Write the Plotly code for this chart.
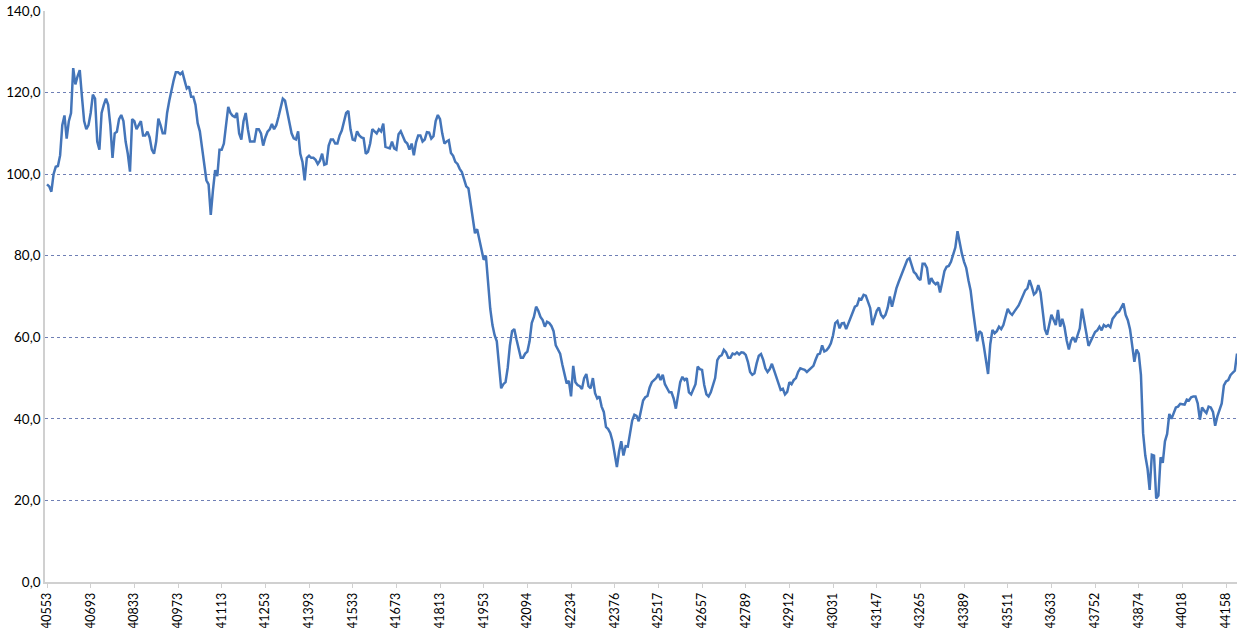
import plotly.graph_objects as go

# Tick labels on the category axis (one label every 20 points below)
tick_labels = ["40553", "40693", "40833", "40973", "41113", "41253", "41393",
               "41533", "41673", "41813", "41953", "42094", "42234", "42376",
               "42517", "42657", "42789", "42912", "43031", "43147", "43265",
               "43389", "43511", "43633", "43752", "43874", "44018", "44158"]
label_step = 20

# Series values, one row per labelled interval
values = [
    97.5, 97, 95.7, 100, 101.8, 102, 104.6, 112, 114.4, 108.7, 113, 115, 126, 122, 124, 125.5, 119, 113, 111, 112,
    115, 119.5, 118.5, 108, 106, 115, 117, 118.5, 117, 112, 104, 110, 110.4, 113.5, 114.5, 113, 108, 105, 100.6, 113.5,
    113, 111, 112, 113, 109.5, 109.5, 110.4, 109, 106, 105, 108, 113.6, 112, 110, 110, 115, 118, 121, 123, 125,
    125, 124.5, 125, 123, 121, 121.5, 119, 119, 117, 112.5, 110.5, 106.5, 102, 98.5, 97.5, 90, 96, 101, 99.5, 106,
    106, 107.5, 112, 116.5, 115, 114.3, 114, 115, 110, 108.5, 113, 115, 111, 108, 108, 108, 111, 111, 110, 107,
    109, 110.4, 111, 112.3, 111, 112, 114, 116.3, 118.5, 118, 115, 112, 110, 108.8, 108.5, 110.5, 105, 103, 98.5, 104,
    104.5, 104, 104, 103.5, 102.5, 103.3, 105, 102.3, 102.5, 107, 108.5, 108.5, 107.5, 107.5, 109.5, 110.7, 113, 115, 115.5, 111,
    108.5, 108.3, 110.5, 109.5, 109, 108.8, 105, 105.5, 107.5, 111, 110.5, 110, 111, 110.5, 112.4, 106.7, 106.5, 106.3, 108, 106.3,
    106, 109.8, 110.5, 109, 108, 107.5, 106, 107.5, 104.6, 107.8, 109.5, 109.5, 108, 108.5, 110.3, 110.2, 108.7, 109.3, 113, 114.5,
    113.5, 110, 107.5, 108, 108.3, 105.2, 104.5, 103, 102.5, 101.3, 100.5, 98.8, 97, 96.5, 92.5, 89, 85.5, 86.5, 84, 81.7,
    79, 80, 73.5, 67, 63, 60.5, 59, 53, 47.5, 48.5, 49, 52.5, 58, 61.5, 62, 59.5, 57.5, 55, 55, 56,
    56.5, 59, 63.5, 65, 67.5, 66.5, 65, 64.2, 62.6, 63.8, 63.5, 62.8, 61.5, 58, 57, 56, 53.3, 51, 48.7, 49.3,
    45.5, 53, 49, 48.3, 48, 47.3, 50, 51, 48, 47.5, 50, 46.3, 45, 45.5, 43, 41.7, 38, 37.5, 36.5, 34.5,
    31, 28.2, 32, 34.5, 31, 33.3, 33.2, 36.5, 39.6, 41, 40.7, 39.4, 42.2, 44.5, 45.3, 45.6, 47.7, 49, 49.5, 50,
    51, 49.5, 50.8, 48.5, 47.5, 46.5, 46.5, 45, 42.5, 45.5, 49, 50.3, 49.5, 50, 46.5, 46, 47.5, 48.5, 52.8, 52.2,
    52, 48.3, 46, 45.5, 46.5, 48.5, 50, 54.4, 55.3, 55.6, 56.9, 56.3, 55, 55, 56, 55.8, 56.3, 55.8, 56.3, 56.2,
    55.7, 54, 51.5, 50.8, 51.2, 53.6, 55.5, 55.9, 54.5, 52.4, 51.5, 52.2, 53.5, 51.9, 50, 48.7, 47.1, 47.4, 46, 46.6,
    49, 48.5, 49.5, 50, 51.5, 52.4, 52.2, 52, 51.5, 52, 52.7, 53, 54.5, 55.8, 56, 58, 56.5, 56.8, 57.5, 58.5,
    60.5, 63.5, 64, 62.2, 63.4, 63.5, 62, 63.3, 64.7, 65.8, 67.5, 67.8, 69.5, 69.3, 70.4, 70.2, 68.5, 67.2, 63, 64.5,
    66.5, 67.3, 65.5, 64.8, 65.5, 67.2, 70, 67.5, 70, 72, 73.5, 74.9, 76, 77.3, 79, 79.4, 77.5, 76, 75.5, 74.5,
    74, 78, 78, 77, 73, 74.5, 73.5, 73, 73.5, 71, 73.5, 76.2, 77.3, 77.5, 78.5, 80.4, 82, 86, 83, 80.5,
    78.5, 77, 74, 71.5, 67, 63.5, 59, 61.5, 61, 58, 54.5, 51, 58.3, 61.8, 61, 61.5, 62.6, 62, 63, 64.8,
    67, 66, 65.5, 66.3, 67, 67.8, 69, 70.3, 71.5, 72, 74, 72.4, 70.5, 71, 72.8, 71, 66, 62, 60.6, 63.4,
    65.5, 64.3, 63, 66.7, 62.6, 64.5, 62.5, 59.2, 57, 59.2, 60, 58.8, 60.5, 62.2, 67, 64.3, 61, 57.9, 59, 60.1,
    61.3, 61.7, 62.6, 61.7, 63, 62.6, 63, 62.5, 64.5, 65.2, 66, 66.3, 67.5, 68.3, 65.5, 64.2, 62, 57.5, 54, 57,
    56, 50.8, 36.5, 31, 27.9, 22.6, 31.2, 31, 20.5, 21.2, 30.6, 29.2, 34.5, 36.3, 41.2, 40, 41.4, 42.8, 43, 43.7,
    43.6, 43.5, 44.7, 44.5, 45.3, 45.5, 45.5, 43.8, 39.8, 42.8, 42, 41.4, 43, 42.8, 41.7, 38.3, 40.6, 42.4, 43.8, 48.2,
    49.2, 49.5, 50.7, 51.3, 51.8, 56,
]

y_ticks = [0, 20, 40, 60, 80, 100, 120, 140]

x = list(range(len(values)))
tick_pos = [i * label_step for i in range(len(tick_labels))]

fig = go.Figure()

fig.add_trace(go.Scatter(
    x=x,
    y=values,
    mode='lines',
    line=dict(color='#4475B9', width=2.5),
    showlegend=False,
))

fig.update_layout(
    width=1240,
    height=628,
    margin=dict(l=45, r=3, t=11, b=46),
    paper_bgcolor='white',
    plot_bgcolor='white',
    separators=',.',
    font=dict(family='Lato, Open Sans, sans-serif', size=13, color='#000000'),
    xaxis=dict(
        range=[-0.92, 545.0],
        tickvals=tick_pos,
        ticktext=tick_labels,
        tickangle=-90,
        tickfont=dict(size=12.5),
        ticks='outside',
        ticklen=4,
        tickcolor='#d0d0d0',
        showgrid=False,
        zeroline=False,
        showline=True,
        linecolor='#d0d0d0',
        linewidth=1.5,
        automargin=False,
    ),
    yaxis=dict(
        range=[0, 140],
        tickvals=y_ticks,
        tickformat='.1f',
        tickfont=dict(size=13.5),
        showgrid=True,
        gridcolor='#6f7fb5',
        griddash='dot',
        gridwidth=1,
        zeroline=False,
        showline=True,
        linecolor='#d0d0d0',
        linewidth=1.5,
        ticks='',
        automargin=False,
    ),
)

# page body has a default 8px margin; drop it so the fixed-size figure fits the window
fig.write_html("out.html", config={'displayModeBar': False},
               post_script="document.body.style.margin='0';")
